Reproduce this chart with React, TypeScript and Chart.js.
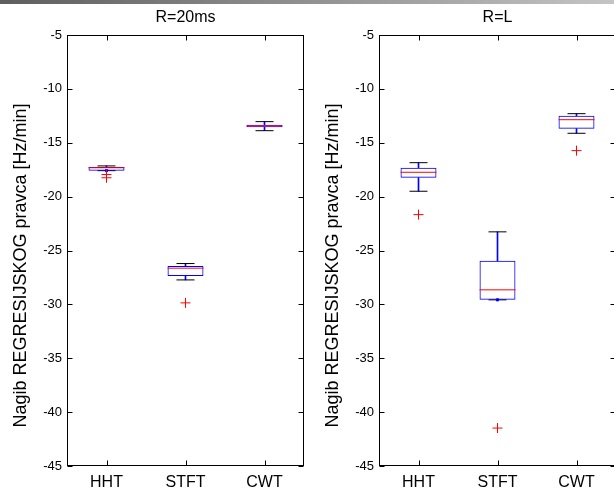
import React, { useEffect, useRef } from 'react';
import { Chart, registerables } from 'chart.js';

Chart.register(...registerables);

const FONT = "'Liberation Sans', Arial, sans-serif";

const categories = ['HHT', 'STFT', 'CWT'];
const yMin = -45;
const yMax = -5;
const yStep = 5;
const yTitle = 'Nagib REGRESIJSKOG pravca [Hz/min]';

// R=20ms
const r20Title = 'R=20ms';
const r20Lower = [-17.59, -27.73, -13.88];
const r20Q1 = [-17.59, -27.36, -13.56];
const r20Median = [-17.32, -26.64, -13.44];
const r20Q3 = [-17.25, -26.43, -13.32];
const r20Upper = [-17.15, -26.21, -13.04];
const r20Outliers = [[-17.95, -18.25], [-29.86], []];

// R=L
const rLTitle = 'R=L';
const rLLower = [-19.5, -29.58, -14.12];
const rLQ1 = [-18.24, -29.58, -13.69];
const rLMedian = [-17.74, -28.65, -12.86];
const rLQ3 = [-17.31, -25.96, -12.49];
const rLUpper = [-16.85, -23.27, -12.3];
const rLOutliers = [[-21.67], [-41.48], [-15.73]];

type Stats = {
  title: string;
  lower: number[];
  q1: number[];
  median: number[];
  q3: number[];
  upper: number[];
  outliers: number[][];
};

const framePlugin = {
  id: 'matlabFrame',
  afterDraw(chart: any) {
    const { ctx, chartArea: a, scales } = chart;
    const xs = scales.x;
    const ys = scales.y;
    ctx.save();
    ctx.strokeStyle = '#000';
    ctx.lineWidth = 1;
    const L = Math.round(a.left) + 0.5;
    const R = Math.round(a.right) - 0.5;
    const T = Math.round(a.top) + 0.5;
    const B = Math.round(a.bottom) - 0.5;
    ctx.strokeRect(L, T, R - L, B - T);
    ctx.beginPath();
    ys.ticks.forEach((t: any) => {
      const py = Math.round(ys.getPixelForValue(t.value)) + 0.5;
      ctx.moveTo(L, py);
      ctx.lineTo(L + 5, py);
      ctx.moveTo(R, py);
      ctx.lineTo(R - 5, py);
    });
    xs.ticks.forEach((_t: any, i: number) => {
      const px = Math.round(xs.getPixelForTick(i)) + 0.5;
      ctx.moveTo(px, B);
      ctx.lineTo(px, B - 5);
      ctx.moveTo(px, T);
      ctx.lineTo(px, T + 5);
    });
    ctx.stroke();

    // y-axis label (MATLAB places it a little below the axis centre)
    const yl = chart.options.plugins.matlabFrame || {};
    ctx.fillStyle = '#000';
    ctx.font = `18px ${FONT}`;
    ctx.textAlign = 'center';
    ctx.textBaseline = 'middle';
    ctx.translate(yl.x ?? 21, (a.top + a.bottom) / 2 + (yl.dy ?? 15));
    ctx.rotate(-Math.PI / 2);
    ctx.fillText(yTitle, 0, 0);
    ctx.restore();
  },
};

function buildConfig(s: Stats): any {
  const pts = (vals: number[]) => vals.map((v, i) => ({ x: categories[i], y: v }));
  const outlierPts: any[] = [];
  s.outliers.forEach((arr, i) => arr.forEach((v) => outlierPts.push({ x: categories[i], y: v })));
  const dotPts: any[] = [];
  s.lower.forEach((v, i) => {
    if (v === s.q1[i]) dotPts.push({ x: categories[i], y: v });
  });
  const pointDs = (data: any[], style: string, radius: number, color: string, order: number) => ({
    type: 'line',
    data,
    showLine: false,
    pointStyle: style,
    pointRadius: radius,
    pointHoverRadius: radius,
    pointBorderColor: color,
    pointBackgroundColor: color,
    pointBorderWidth: 1,
    borderColor: color,
    backgroundColor: color,
    order,
  });
  const datasets = [
    {
      type: 'bar',
      data: s.q3.map((v, i) => [v, s.upper[i]]),
      backgroundColor: '#0000ff',
      borderWidth: 0,
      barThickness: 1,
      grouped: false,
      order: 6,
    },
    {
      type: 'bar',
      data: s.lower.map((v, i) => [v, s.q1[i]]),
      backgroundColor: '#0000ff',
      borderWidth: 0,
      barThickness: 1,
      grouped: false,
      order: 6,
    },
    pointDs(pts(s.upper), 'line', 9, '#000000', 5),
    pointDs(pts(s.lower), 'line', 9, '#000000', 5),
    {
      type: 'bar',
      data: s.q1.map((v, i) => [v, s.q3[i]]),
      backgroundColor: 'rgba(0,0,0,0)',
      borderColor: '#0000ff',
      borderWidth: 1,
      borderSkipped: false,
      barPercentage: 0.455,
      categoryPercentage: 1,
      grouped: false,
      order: 4,
    },
    pointDs(pts(s.median), 'line', 18, '#ff0000', 2),
    pointDs(dotPts, 'rect', 1.5, '#0000ff', 1),
    pointDs(outlierPts, 'cross', 5, '#ff0000', 0),
  ];
  return {
    type: 'bar',
    data: { labels: categories, datasets },
    options: {
      animation: false,
      responsive: false,
      events: [],
      layout: { padding: { left: 0, right: 5, top: 0, bottom: 0 } },
      plugins: {
        legend: { display: false },
        tooltip: { enabled: false },
        matlabFrame: { x: 21, dy: 15 },
        title: {
          display: true,
          text: s.title,
          color: '#000',
          fullSize: false,
          font: { family: FONT, size: 16, weight: 'normal', lineHeight: 1.2 },
          padding: { top: 8, bottom: 7.8 },
        },
      },
      scales: {
        x: {
          type: 'category',
          offset: true,
          grid: { display: false, drawTicks: false },
          border: { display: false },
          ticks: { color: '#000', font: { family: FONT, size: 16 }, padding: 7 },
          afterFit: (sc: any) => {
            sc.height = 23;
          },
        },
        y: {
          type: 'linear',
          min: yMin,
          max: yMax,
          grid: { display: false, drawTicks: false },
          border: { display: false },
          ticks: { stepSize: yStep, color: '#000', font: { family: FONT, size: 13 }, padding: 5 },
          afterFit: (sc: any) => {
            sc.width = 67;
          },
        },
      },
    },
    plugins: [framePlugin],
  };
}

function BoxChart({ stats, left }: { stats: Stats; left: number }) {
  const ref = useRef<HTMLCanvasElement>(null);
  useEffect(() => {
    if (!ref.current) return;
    const chart = new Chart(ref.current, buildConfig(stats));
    return () => chart.destroy();
  }, [stats]);
  return (
    <canvas
      ref={ref}
      width={323}
      height={489}
      style={{ position: 'absolute', left, top: 0, width: 323, height: 489 }}
    />
  );
}

const r20Stats: Stats = {
  title: r20Title,
  lower: r20Lower,
  q1: r20Q1,
  median: r20Median,
  q3: r20Q3,
  upper: r20Upper,
  outliers: r20Outliers,
};

const rLStats: Stats = {
  title: rLTitle,
  lower: rLLower,
  q1: rLQ1,
  median: rLMedian,
  q3: rLQ3,
  upper: rLUpper,
  outliers: rLOutliers,
};

export default function App() {
  return (
    <div
      style={{
        position: 'fixed',
        left: 0,
        top: 0,
        width: 614,
        height: 489,
        overflow: 'hidden',
        background: '#fff',
      }}
    >
      <BoxChart stats={r20Stats} left={0} />
      <BoxChart stats={rLStats} left={312} />
      <div
        style={{
          position: 'absolute',
          left: 0,
          top: 0,
          width: 614,
          height: 4,
          background: 'linear-gradient(to right, #5e5e5e, #c4c4c4)',
        }}
      />
    </div>
  );
}
